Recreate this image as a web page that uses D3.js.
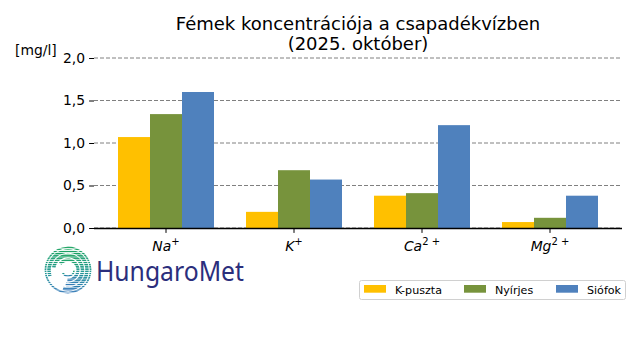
<!doctype html>
<html>
  <head>
    <script src="https://cdnjs.cloudflare.com/ajax/libs/d3/7.8.5/d3.min.js"></script>
    <style>
      body { margin: 0; background: #fff; }
      svg { font-family: "DejaVu Sans", sans-serif; }
      .grid line { stroke: #808080; stroke-dasharray: 4,2; }
    </style>
  </head>
  <body>
    <svg width="640" height="360"></svg>
    <script>
      // data
      var ions = ["Na", "K", "Ca", "Mg"];
      var charges = ["+", "+", "2 +", "2 +"];
      var stations = ["K-puszta", "Nyírjes", "Siófok"];
      var colors = ["#FFC000", "#77933C", "#4F81BD"];
      var kpuszta = [1.07, 0.19, 0.38, 0.07];
      var nyirjes = [1.34, 0.68, 0.41, 0.12];
      var siofok = [1.60, 0.57, 1.21, 0.38];
      var yTicks = [0, 0.5, 1.0, 1.5, 2.0];

      var series = [kpuszta, nyirjes, siofok];

      var svg = d3.select("svg");

      var x = d3.scaleBand()
        .domain(ions)
        .range([94, 622])
        .paddingInner(0.25)
        .paddingOuter(0.1875);
      var xs = d3.scaleBand()
        .domain(stations)
        .range([0, x.bandwidth()]);
      var y = d3.scaleLinear().domain([0, 2]).range([228, 58]);

      var comma = v => d3.format(".1f")(v).replace(".", ",");

      // dashed grid behind bars
      svg.append("g")
        .attr("class", "grid")
        .selectAll("line")
        .data(yTicks)
        .enter()
        .append("line")
          .attr("x1", 94).attr("x2", 622)
          .attr("y1", d => y(d)).attr("y2", d => y(d));

      // bars
      series.forEach((vals, j) => {
        svg.append("g")
          .selectAll("rect")
          .data(vals)
          .enter()
          .append("rect")
            .attr("x", (d, i) => x(ions[i]) + xs(stations[j]))
            .attr("width", xs.bandwidth())
            .attr("y", d => y(d))
            .attr("height", d => y(0) - y(d))
            .attr("fill", colors[j]);
      });

      // y axis, no spine
      var yAxis = svg.append("g")
        .attr("transform", "translate(94,0)")
        .call(d3.axisLeft(y).tickValues(yTicks).tickFormat(comma).tickSize(4.9).tickPadding(4));
      yAxis.select(".domain").remove();
      yAxis.selectAll("text").attr("font-size", 13.9).attr("fill", "#000").attr("font-family", "DejaVu Sans");

      // x axis with bottom spine
      var xAxis = svg.append("g")
        .attr("transform", "translate(0,228)")
        .call(d3.axisBottom(x).tickSize(4.9).tickFormat(""));
      xAxis.select(".domain").attr("stroke", "#000").attr("stroke-width", 1.3).attr("d", "M94,0.5H622");

      // ion labels with charge as superscript (one text element each)
      svg.append("g")
        .selectAll("text")
        .data(ions)
        .enter()
        .append("text")
          .attr("x", d => x(d) + x.bandwidth() / 2)
          .attr("y", 251)
          .attr("text-anchor", "middle")
          .attr("font-size", 13.9)
          .attr("font-style", "italic")
          .html((d, i) => d + '<tspan dy="-6" font-size="10" font-style="normal">' + charges[i] + '</tspan>');

      // title
      svg.append("text")
        .attr("x", 358).attr("y", 29.5)
        .attr("text-anchor", "middle")
        .attr("font-size", 18)
        .text("Fémek koncentrációja a csapadékvízben");
      svg.append("text")
        .attr("x", 358).attr("y", 50)
        .attr("text-anchor", "middle")
        .attr("font-size", 18)
        .text("(2025. október)");

      svg.append("text")
        .attr("x", 15).attr("y", 55)
        .attr("font-size", 13.9)
        .text("[mg/l]");

      // legend
      var leg = svg.append("g");
      leg.append("rect")
        .attr("x", 359.5).attr("y", 280.5)
        .attr("width", 266).attr("height", 19)
        .attr("rx", 2)
        .attr("fill", "#fff")
        .attr("stroke", "#d0d0d0");
      var legX = [364, 464, 556];
      stations.forEach((s, j) => {
        leg.append("rect")
          .attr("x", legX[j]).attr("y", 285)
          .attr("width", 22).attr("height", 7.7)
          .attr("fill", colors[j]);
        leg.append("text")
          .attr("x", legX[j] + 31).attr("y", 293.5)
          .attr("font-size", 11.1)
          .text(s);
      });

      // HungaroMet logo: striped spiral, open to the left
      var defs = svg.append("defs");
      var grad = defs.append("linearGradient")
        .attr("id", "lg").attr("x1", 0).attr("y1", 0).attr("x2", 0).attr("y2", 1);
      grad.append("stop").attr("offset", "0%").attr("stop-color", "#14a05a");
      grad.append("stop").attr("offset", "55%").attr("stop-color", "#17938e");
      grad.append("stop").attr("offset", "100%").attr("stop-color", "#2f74b8");
      var stripe = defs.append("pattern")
        .attr("id", "stripe").attr("patternUnits", "userSpaceOnUse")
        .attr("width", 4).attr("height", 2.2);
      stripe.append("rect").attr("width", 4).attr("height", 1.4).attr("fill", "#fff");
      defs.append("mask").attr("id", "stripemask")
        .append("rect").attr("x", 40).attr("y", 240).attr("width", 60).attr("height", 60)
        .attr("fill", "url(#stripe)");

      var logo = svg.append("g")
        .attr("mask", "url(#stripemask)")
        .append("g")
        .attr("transform", "translate(68,270)");
      var arcs = [
        {r: 6, w: 1.6, a0: 1.6, a1: 4.2},
        {r: 10, w: 3, a0: -0.9, a1: 3.2},
        {r: 14.5, w: 3.5, a0: -1.4, a1: 3.3},
        {r: 19, w: 3.5, a0: -1.9, a1: 3.4},
        {r: 22.5, w: 1.6, a0: -2.4, a1: 3.9}
      ];
      logo.selectAll("path")
        .data(arcs)
        .enter()
        .append("path")
          .attr("d", d => d3.arc()({innerRadius: d.r - d.w / 2, outerRadius: d.r + d.w / 2, startAngle: d.a0, endAngle: d.a1}))
          .attr("fill", "url(#lg)");
      svg.append("text")
        .attr("x", 96).attr("y", 281)
        .attr("font-family", "Noto Sans")
        .attr("font-size", 27)
        .attr("fill", "#2b2e7c")
        .attr("textLength", 148)
        .attr("lengthAdjust", "spacingAndGlyphs")
        .text("HungaroMet");
    </script>
  </body>
</html>
